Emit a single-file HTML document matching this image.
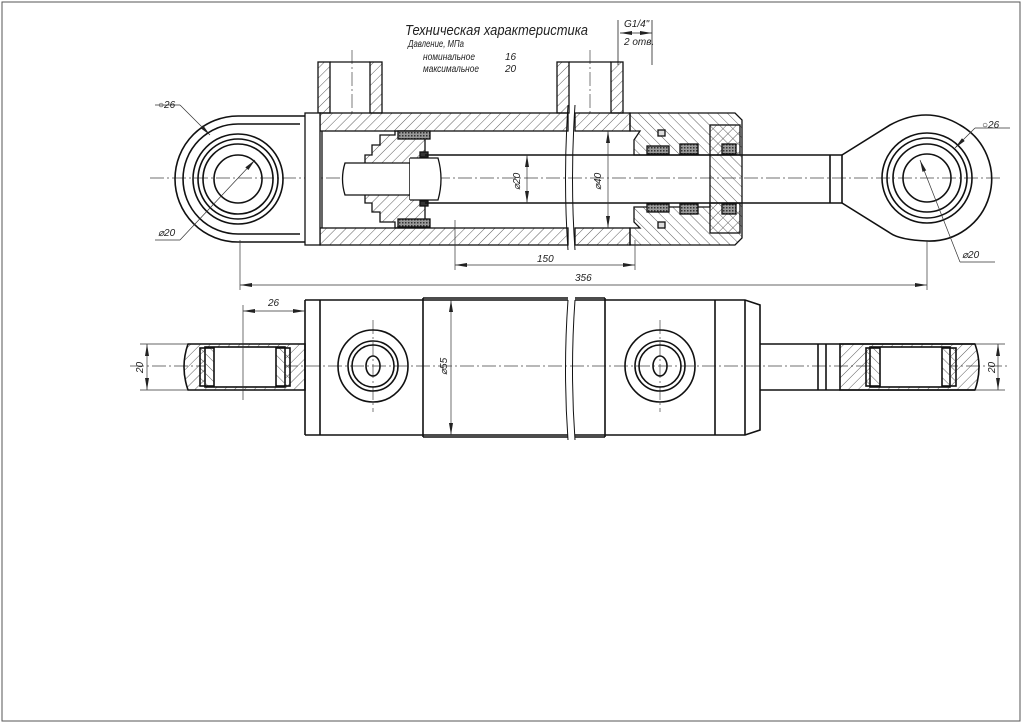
<!DOCTYPE html>
<html><head><meta charset="utf-8"><style>
body{margin:0;background:#fff}
svg{display:block}
text{font-family:"Liberation Sans",sans-serif;font-style:italic;fill:#222}
</style></head><body>
<svg width="1024" height="724" viewBox="0 0 1024 724" xmlns="http://www.w3.org/2000/svg">
<defs>
<pattern id="h" width="7" height="7" patternUnits="userSpaceOnUse" patternTransform="rotate(45)"><line x1="0" y1="0" x2="0" y2="7" stroke="#333" stroke-width="0.8"/></pattern>
<pattern id="h2" width="7" height="7" patternUnits="userSpaceOnUse" patternTransform="rotate(-45)"><line x1="0" y1="0" x2="0" y2="7" stroke="#333" stroke-width="0.8"/></pattern>
<pattern id="x" width="3" height="3" patternUnits="userSpaceOnUse"><rect width="3" height="3" fill="#999"/><rect width="1.5" height="1.5" fill="#333"/></pattern>
<marker id="a" markerWidth="12" markerHeight="6" refX="12" refY="3" orient="auto-start-reverse" markerUnits="userSpaceOnUse"><path d="M0 1 L12 3 L0 5Z" fill="#222"/></marker>
</defs>
<rect x="2" y="2" width="1018" height="719" fill="none" stroke="#555" stroke-width="1"/>
<text x="405" y="35" font-size="15" textLength="183" lengthAdjust="spacingAndGlyphs">Техническая характеристика</text>
<text x="408" y="47" font-size="10" textLength="56" lengthAdjust="spacingAndGlyphs">Давление, МПа</text>
<text x="423" y="60" font-size="10" textLength="52" lengthAdjust="spacingAndGlyphs">номинальное</text>
<text x="505" y="60" font-size="10">16</text>
<text x="423" y="72" font-size="10" textLength="56" lengthAdjust="spacingAndGlyphs">максимальное</text>
<text x="505" y="72" font-size="10">20</text>
<text x="624" y="27" font-size="10">G1/4"</text>
<text x="624" y="45" font-size="10">2 отв.</text>
<g stroke="#222" stroke-width="0.8" fill="none">
<line x1="620" y1="33" x2="652" y2="33" marker-start="url(#a)" marker-end="url(#a)"/><line x1="618" y1="20" x2="618" y2="65"/><line x1="652" y1="20" x2="652" y2="65"/>
</g>
<g stroke="#444" stroke-width="0.7" stroke-dasharray="14,3,2,3" fill="none">
<line x1="150" y1="178" x2="1000" y2="178"/>
<line x1="130" y1="366" x2="1010" y2="366"/>
<line x1="352" y1="50" x2="352" y2="115"/>
<line x1="590" y1="50" x2="590" y2="115"/>
<line x1="373" y1="320" x2="373" y2="412"/>
<line x1="660" y1="320" x2="660" y2="412"/>
</g>
<g stroke="#111" stroke-width="1.3">
<rect x="320" y="113" width="248" height="18" fill="url(#h)"/>
<rect x="575" y="113" width="55" height="18" fill="url(#h)"/>
<rect x="320" y="228" width="248" height="17" fill="url(#h)"/>
<rect x="575" y="228" width="55" height="17" fill="url(#h)"/>
<rect x="318" y="62" width="12" height="51" fill="url(#h)"/>
<rect x="370" y="62" width="12" height="51" fill="url(#h)"/>
<rect x="557" y="62" width="12" height="51" fill="url(#h)"/>
<rect x="611" y="62" width="12" height="51" fill="url(#h)"/>
<line x1="330" y1="62" x2="370" y2="62"/><line x1="569" y1="62" x2="611" y2="62"/>
<path d="M630 113 H735 L742 120 V238 L735 245 H630 V228 H640 L634 222 V207 H710 V155 H634 V140 L640 131 H630Z" fill="url(#h2)"/>
<rect x="710" y="125" width="30" height="30" fill="url(#h)"/>
<rect x="710" y="203" width="30" height="30" fill="url(#h)"/>
<rect x="647" y="146" width="22" height="8" fill="url(#x)"/><rect x="680" y="144" width="18" height="10" fill="url(#x)"/>
<rect x="647" y="204" width="22" height="8" fill="url(#x)"/><rect x="680" y="204" width="18" height="10" fill="url(#x)"/>
<rect x="722" y="144" width="14" height="10" fill="url(#x)"/><rect x="722" y="204" width="14" height="10" fill="url(#x)"/>
<rect x="658" y="130" width="7" height="6" fill="#ddd"/><rect x="658" y="222" width="7" height="6" fill="#ddd"/>
<path d="M395 131 H425 V228 H395 V222 H380 V212 H372 V203 H365 V155 H372 V145 H380 V135 H395Z" fill="url(#h)"/>
<rect x="398" y="131" width="32" height="8" fill="url(#x)"/><rect x="398" y="219" width="32" height="8" fill="url(#x)"/>
<rect x="420" y="152" width="8" height="5" fill="#333"/><rect x="420" y="201" width="8" height="5" fill="#333"/>
<path d="M345 163 H410 V195 H345 Q340 179 345 163Z" fill="#fff"/>
<line x1="410" y1="158" x2="410" y2="200"/><path d="M410 158 H438 Q444 179 438 200 H410" fill="#fff"/>
<rect x="305" y="113" width="15" height="132" fill="#fff"/>
<line x1="322" y1="131" x2="322" y2="228"/>
</g>
<g stroke="#111" stroke-width="1.6" fill="none">
<path d="M305 116 H238 A63 63 0 0 0 238 242 H305"/>
<path d="M300 124 H238 A55 55 0 0 0 238 234 H300"/>
<circle cx="238" cy="179" r="45"/><circle cx="238" cy="179" r="40"/><circle cx="238" cy="179" r="35"/><circle cx="238" cy="179" r="24"/>
<line x1="425" y1="155" x2="842" y2="155"/><line x1="425" y1="203" x2="842" y2="203"/>
<line x1="830" y1="155" x2="830" y2="203"/><line x1="842" y1="155" x2="842" y2="203"/>
<path d="M842 155 L890 125 Q927 105 960 125 A62 62 0 0 1 927 241 Q900 240 890 233 L842 203"/>
<circle cx="927" cy="178" r="45"/><circle cx="927" cy="178" r="40"/><circle cx="927" cy="178" r="34"/><circle cx="927" cy="178" r="24"/>
</g>
<g stroke="#111" stroke-width="1" fill="none">
<path d="M568 105 Q563 180 568 250"/><path d="M575 105 Q570 180 575 250"/>
<path d="M568 300 Q563 370 568 440"/><path d="M575 300 Q570 370 575 440"/>
</g>
<g stroke="#333" stroke-width="0.7" fill="none">
<line x1="455" y1="265" x2="635" y2="265" marker-start="url(#a)" marker-end="url(#a)"/><line x1="455" y1="220" x2="455" y2="270"/><line x1="635" y1="240" x2="635" y2="270"/>
<line x1="240" y1="285" x2="927" y2="285" marker-start="url(#a)" marker-end="url(#a)"/><line x1="240" y1="240" x2="240" y2="290"/><line x1="927" y1="240" x2="927" y2="290"/>
<line x1="527" y1="155" x2="527" y2="203" marker-start="url(#a)" marker-end="url(#a)"/><line x1="608" y1="131" x2="608" y2="228" marker-start="url(#a)" marker-end="url(#a)"/>
<line x1="155" y1="105" x2="180" y2="105"/><line x1="180" y1="105" x2="210" y2="135" marker-end="url(#a)"/>
<line x1="155" y1="240" x2="180" y2="240"/><line x1="180" y1="240" x2="255" y2="160" marker-end="url(#a)"/>
<line x1="975" y1="128" x2="1010" y2="128"/><line x1="975" y1="128" x2="955" y2="148" marker-end="url(#a)"/>
<line x1="960" y1="262" x2="995" y2="262"/><line x1="960" y1="262" x2="920" y2="160" marker-end="url(#a)"/>
</g>
<text x="537" y="262" font-size="10">150</text>
<text x="575" y="281" font-size="10">356</text>
<text x="158" y="108" font-size="10">○26</text>
<text x="158" y="236" font-size="10">⌀20</text>
<text x="982" y="128" font-size="10">○26</text>
<text x="962" y="258" font-size="10">⌀20</text>
<text x="0" y="0" font-size="10" transform="translate(520,190) rotate(-90)">⌀20</text>
<text x="0" y="0" font-size="10" transform="translate(601,190) rotate(-90)">⌀40</text>
<g stroke="#111" stroke-width="1.6" fill="none">
<path d="M305 300 H568 M575 300 H745 L760 305 V430 L745 435 H575 M568 435 H305 Z"/>
<line x1="305" y1="300" x2="305" y2="435"/>
<line x1="320" y1="300" x2="320" y2="435"/>
<line x1="423" y1="298" x2="423" y2="437"/><line x1="423" y1="298" x2="568" y2="298"/><line x1="423" y1="437" x2="568" y2="437"/>
<line x1="605" y1="298" x2="605" y2="437"/><line x1="575" y1="298" x2="605" y2="298"/><line x1="575" y1="437" x2="605" y2="437"/>
<line x1="715" y1="300" x2="715" y2="435"/><line x1="745" y1="300" x2="745" y2="435"/>
<ellipse cx="373" cy="366" rx="35" ry="36"/><ellipse cx="373" cy="366" rx="25" ry="25"/><ellipse cx="373" cy="366" rx="21" ry="21"/><ellipse cx="373" cy="366" rx="7" ry="10"/>
<ellipse cx="660" cy="366" rx="35" ry="36"/><ellipse cx="660" cy="366" rx="25" ry="25"/><ellipse cx="660" cy="366" rx="21" ry="21"/><ellipse cx="660" cy="366" rx="7" ry="10"/>
<path d="M188 344 H305 V390 H188 Q180 367 188 344Z" fill="url(#h)"/>
<rect x="205" y="347" width="80" height="40" fill="#fff"/>
<rect x="200" y="348" width="14" height="38" fill="url(#h2)"/><rect x="276" y="348" width="14" height="38" fill="url(#h2)"/>
<line x1="760" y1="344" x2="975" y2="344"/><line x1="760" y1="390" x2="975" y2="390"/>
<line x1="818" y1="344" x2="818" y2="390"/><line x1="826" y1="344" x2="826" y2="390"/>
<path d="M840 344 H975 Q983 367 975 390 H840Z" fill="url(#h)"/>
<rect x="870" y="347" width="80" height="40" fill="#fff"/>
<rect x="866" y="348" width="14" height="38" fill="url(#h2)"/><rect x="942" y="348" width="14" height="38" fill="url(#h2)"/>
</g>
<g stroke="#333" stroke-width="0.7" fill="none">
<line x1="243" y1="311" x2="305" y2="311" marker-start="url(#a)" marker-end="url(#a)"/><line x1="243" y1="305" x2="243" y2="400"/>
<line x1="140" y1="344" x2="188" y2="344"/><line x1="140" y1="390" x2="188" y2="390"/><line x1="147" y1="344" x2="147" y2="390" marker-start="url(#a)" marker-end="url(#a)"/>
<line x1="975" y1="344" x2="1005" y2="344"/><line x1="975" y1="390" x2="1005" y2="390"/><line x1="998" y1="344" x2="998" y2="390" marker-start="url(#a)" marker-end="url(#a)"/>
<line x1="451" y1="300" x2="451" y2="435" marker-start="url(#a)" marker-end="url(#a)"/>
</g>
<text x="268" y="306" font-size="10">26</text>
<text x="0" y="0" font-size="10" transform="translate(143,373) rotate(-90)">20</text>
<text x="0" y="0" font-size="10" transform="translate(995,373) rotate(-90)">20</text>
<text x="0" y="0" font-size="10" transform="translate(447,375) rotate(-90)">⌀55</text>
</svg>
</body></html>
